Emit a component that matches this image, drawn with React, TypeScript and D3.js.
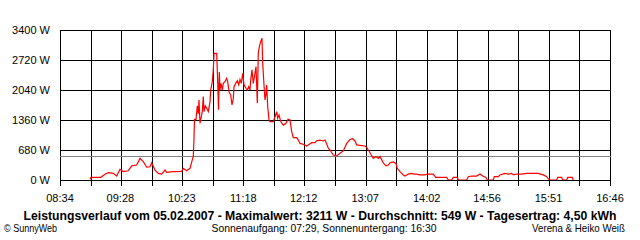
import React from "react";
import * as d3 from "d3";

const times: string[] = [
  "9:00:50","9:01:44","9:10:25","9:14:15","9:17:13","9:21:41","9:24:43","9:27:40","9:30:37","9:35:06",
  "9:38:08","9:42:37","9:45:34","9:48:31","9:51:34","9:54:31","9:56:02","9:58:59","10:01:56","10:04:58",
  "10:07:55","10:09:26","10:15:21","10:22:52","10:24:18","10:27:20","10:30:17","10:32:42","10:33:14","10:33:52",
  "10:34:19","10:35:40","10:36:49","10:37:43","10:38:20","10:39:14","10:40:24","10:41:17","10:42:11","10:42:49",
  "10:43:59","10:45:14","10:46:40","10:48:11","10:48:49","10:50:14","10:51:08","10:51:46","10:54:10","10:55:04",
  "10:55:47","10:56:30","10:57:08","10:58:01","10:59:11","11:00:05","11:01:36","11:03:07","11:04:01","11:05:11",
  "11:06:42","11:07:52","11:09:02","11:09:39","11:11:10","11:12:36","11:13:52","11:15:01","11:16:11","11:17:26",
  "11:18:36","11:20:23","11:21:33","11:22:49","11:23:58","11:24:35","11:25:45","11:26:55","11:28:10","11:29:20",
  "11:30:30","11:31:23","11:32:17","11:33:32","11:34:42","11:35:20","11:36:29","11:37:23","11:38:17","11:38:54",
  "11:39:48","11:40:58","11:41:52","11:44:49","11:46:20","11:47:51","11:48:44","11:49:55","11:51:26","11:53:45",
  "11:56:10","11:57:58","11:59:45","12:01:16","12:02:42","12:05:44","12:07:10","12:08:41","12:11:38","12:14:41",
  "12:16:07","12:19:10","12:22:07","12:23:38","12:26:35","12:29:32","12:31:04","12:32:35","12:34:01","12:35:32",
  "12:38:29","12:41:31","12:44:28","12:47:26","12:50:28","12:53:25","12:55:50","12:57:53","12:59:25","13:02:22",
  "13:06:50","13:08:22","13:09:47","13:11:56","13:14:16","13:16:41","13:18:44","13:20:16","13:23:13","13:25:37",
  "13:27:41","13:29:12","13:32:09","13:34:34","13:35:44","13:38:09","13:41:06","13:42:37","13:45:34","13:48:37",
  "13:50:40","13:53:05","13:55:25","14:00:31","14:02:34","14:07:56","14:10:05","14:19:55","14:21:21","14:24:23",
  "14:25:50","14:29:24","14:30:18","14:37:49","14:39:14","14:42:17","14:46:45","14:49:43","14:52:07","14:55:05",
  "14:56:14","15:01:37","15:02:31","15:06:05","15:07:36","15:12:04","15:15:01","15:18:04","15:19:30","15:22:32",
  "15:27:01","15:31:29","15:41:52","15:46:20","15:49:22","15:51:42","15:58:19","15:59:13","16:02:47","16:03:41",
  "16:07:16","16:08:09","16:12:16","16:13:10"
];

const watts: number[] = [
  15,60,60,130,165,150,90,240,190,210,
  320,340,490,415,290,300,390,225,150,135,
  225,175,190,195,265,210,265,490,530,945,
  1375,1375,1680,1500,1815,1285,1435,1550,1890,1550,
  1680,1625,1550,1775,2040,2230,2495,2870,2870,2230,
  1590,2450,2040,2190,2040,2190,2230,2305,2230,2000,
  1925,1700,1850,2115,2190,2250,2155,2280,2190,2420,
  2155,2080,2040,2115,2040,2265,2495,2190,2380,2570,
  1740,2870,3020,3135,3211,2645,2155,1815,1965,2155,
  1660,1360,1325,1325,1435,1550,1400,1475,1325,1245,
  1285,1375,1360,1095,960,960,905,830,810,770,
  795,845,845,890,905,885,905,815,720,680,
  565,545,605,660,830,920,935,885,795,785,
  770,740,680,590,490,530,490,530,390,320,
  340,390,410,375,265,190,115,90,135,150,
  135,135,115,115,135,135,60,60,0,0,
  60,60,0,0,75,90,90,135,90,60,
  0,0,75,75,115,150,135,150,115,135,
  135,150,150,115,75,0,0,60,60,0,
  0,60,60,0
];

const yTicks: number[] = [0, 680, 1360, 2040, 2720, 3400];
const xTickLabels: string[] = ["08:34","09:28","10:23","11:18","12:12","13:07","14:02","14:56","15:51","16:46"];
const averageW = 549;
const titleText = "Leistungsverlauf vom 05.02.2007 - Maximalwert: 3211 W - Durchschnitt: 549 W - Tagesertrag: 4,50 kWh";
const sunText = "Sonnenaufgang: 07:29, Sonnenuntergang: 16:30";
const leftText = "\u00A9 SunnyWeb";
const rightText = "Verena & Heiko Weiß";

const toMin = (s: string) => {
  const p = s.split(":").map(Number);
  return p[0] * 60 + p[1] + (p[2] || 0) / 60;
};

export default function App() {
  const W = 640, H = 240;
  const left = 60, right = 610, top = 30, bottom = 180;
  const t0 = toMin(xTickLabels[0]);
  const t1 = toMin(xTickLabels[xTickLabels.length - 1]);
  const x = d3.scaleLinear().domain([t0, t1]).range([left, right]);
  const y = d3.scaleLinear().domain([0, 3400]).range([bottom, top]);
  const nGrid = (xTickLabels.length - 1) * 2;
  const gridT = d3.range(nGrid + 1).map((i) => t0 + (i * (t1 - t0)) / nGrid);
  const pts = times.map((t, i) => [toMin(t), watts[i]] as [number, number]);
  const line = d3.line<[number, number]>().x((d) => x(d[0])).y((d) => y(d[1]));
  const px = (v: number) => Math.round(v) + 0.5;
  const font = "'Liberation Sans', Arial, sans-serif";

  return (
    <svg width={W} height={H} style={{ position: "absolute", left: 0, top: 0, background: "#fff" }} fontFamily={font}>
      <rect x={0} y={0} width={W} height={H} fill="#fff" />
      <g shapeRendering="crispEdges" stroke="#000" strokeWidth={1}>
        {yTicks.map((v) => (
          <line key={"h" + v} x1={left} x2={right + 1} y1={px(y(v))} y2={px(y(v))} />
        ))}
        {gridT.map((t, i) => (
          <line key={"v" + i} x1={px(x(t))} x2={px(x(t))} y1={top} y2={bottom + 6} />
        ))}
      </g>
      <line x1={left} x2={right + 1} y1={px(y(averageW))} y2={px(y(averageW))} stroke="#808080" strokeWidth={1} shapeRendering="crispEdges" />
      <path d={line(pts) || ""} fill="none" stroke="#ff0000" strokeWidth={1.2} strokeLinejoin="miter" />
      <line x1={left} x2={right + 1} y1={px(y(0))} y2={px(y(0))} stroke="#000" strokeWidth={1} shapeRendering="crispEdges" />
      <g fontSize={11} fill="#000">
        {yTicks.map((v) => (
          <text key={"yl" + v} x={50} y={y(v) + 4} textAnchor="end">{v + " W"}</text>
        ))}
        {xTickLabels.map((l, i) => (
          <text key={"xl" + i} x={x(toMin(l))} y={202} textAnchor="middle">{l}</text>
        ))}
      </g>
      <text x={320} y={220} fontSize={12} fontWeight="bold" textAnchor="middle" textLength={593} lengthAdjust="spacingAndGlyphs">{titleText}</text>
      <text x={4} y={232} fontSize={11} textLength={53} lengthAdjust="spacingAndGlyphs">{leftText}</text>
      <text x={324} y={232} fontSize={11} textAnchor="middle" textLength={225} lengthAdjust="spacingAndGlyphs">{sunText}</text>
      <text x={625} y={232} fontSize={11} textAnchor="end" textLength={93} lengthAdjust="spacingAndGlyphs">{rightText}</text>
    </svg>
  );
}
